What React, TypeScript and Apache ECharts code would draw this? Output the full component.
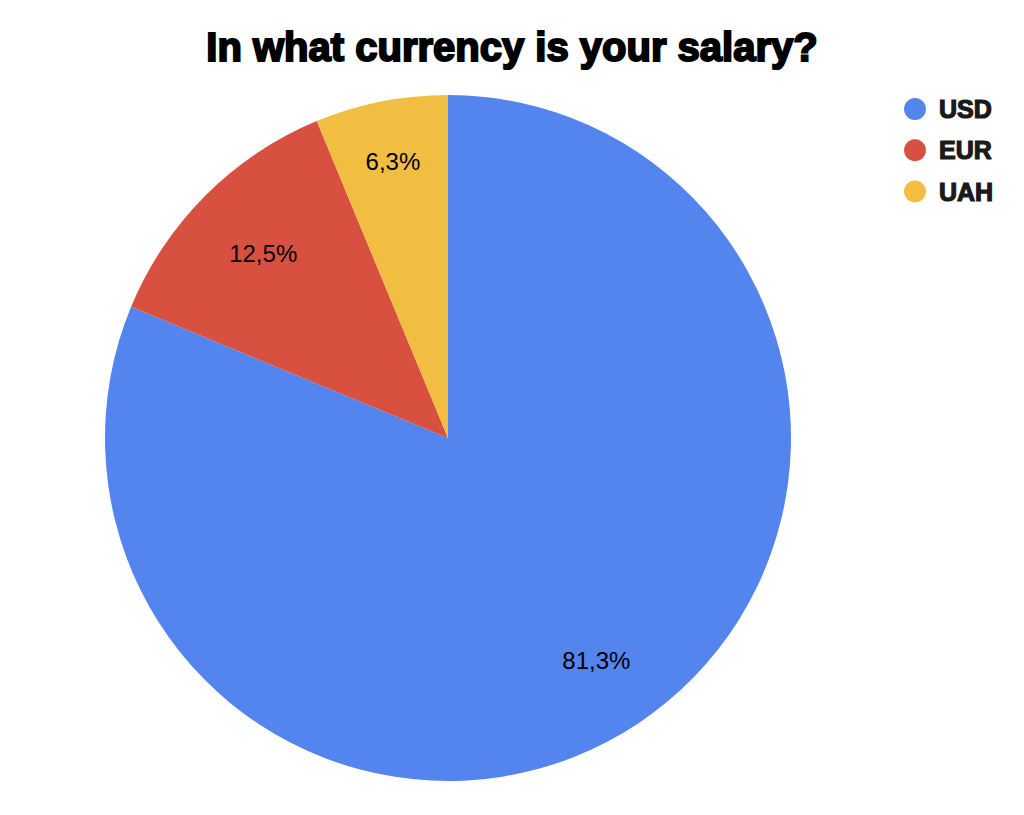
import React, { useEffect, useRef } from "react";
import * as echarts from "echarts";

const categories = ["USD", "EUR", "UAH"];
const values = [13, 2, 1];
const colors = ["#5484ED", "#D85140", "#F1BE42"];
const titleText = "In what currency is your salary?";

export default function App() {
  const ref = useRef<HTMLDivElement>(null);
  useEffect(() => {
    document.body.style.margin = "0";
    const chart = echarts.init(ref.current!, undefined, { renderer: "svg" });
    const total = values.reduce((a, b) => a + b, 0);
    const data = categories.map((name, i) => ({
      name,
      value: values[i],
      itemStyle: { color: colors[i] },
    }));
    const fmt = (p: any) => ((p.value / total) * 100).toFixed(1).replace(".", ",") + "%";
    chart.setOption({
      animation: false,
      backgroundColor: "#ffffff",
      title: {
        text: titleText,
        left: "center",
        top: 27,
        padding: 0,
        textStyle: {
          fontFamily: "Liberation Sans",
          fontWeight: "bold",
          fontSize: 40,
          lineHeight: 40,
          color: "#000",
          textBorderColor: "#000",
          textBorderWidth: 2,
        },
      },
      legend: {
        orient: "vertical",
        left: 904,
        top: 96,
        icon: "circle",
        itemWidth: 22,
        itemHeight: 22,
        itemGap: 15,
        padding: 0,
        data: categories,
        textStyle: {
          fontFamily: "Liberation Sans",
          fontWeight: "bold",
          fontSize: 25,
          lineHeight: 22,
          color: "#1a1a1a",
          textBorderColor: "#1a1a1a",
          textBorderWidth: 1.2,
          padding: [0, 0, 0, 8],
        },
      },
      series: [
        {
          type: "pie",
          center: [448, 438],
          radius: [0, 343],
          startAngle: 90,
          clockwise: true,
          data,
          label: { show: false },
          labelLine: { show: false },
          silent: true,
        },
        {
          type: "pie",
          center: [448, 438],
          radius: [185, 343],
          startAngle: 90,
          clockwise: true,
          silent: true,
          legendHoverLink: false,
          data: data.map((d, i) => ({
            name: d.name,
            value: d.value,
            itemStyle: { color: "rgba(0,0,0,0)" },
            label: i === 1 ? { offset: [4, 4] } : i === 2 ? { offset: [-3, -15] } : undefined,
          })),
          itemStyle: { color: "rgba(0,0,0,0)" },
          label: {
            show: true,
            position: "inside",
            formatter: fmt,
            fontFamily: "Liberation Sans",
            fontSize: 24,
            color: "#000",
          },
          labelLine: { show: false },
          tooltip: { show: false },
        },
      ],
    });
    return () => chart.dispose();
  }, []);
  return <div ref={ref} style={{ width: 1024, height: 815 }} />;
}
